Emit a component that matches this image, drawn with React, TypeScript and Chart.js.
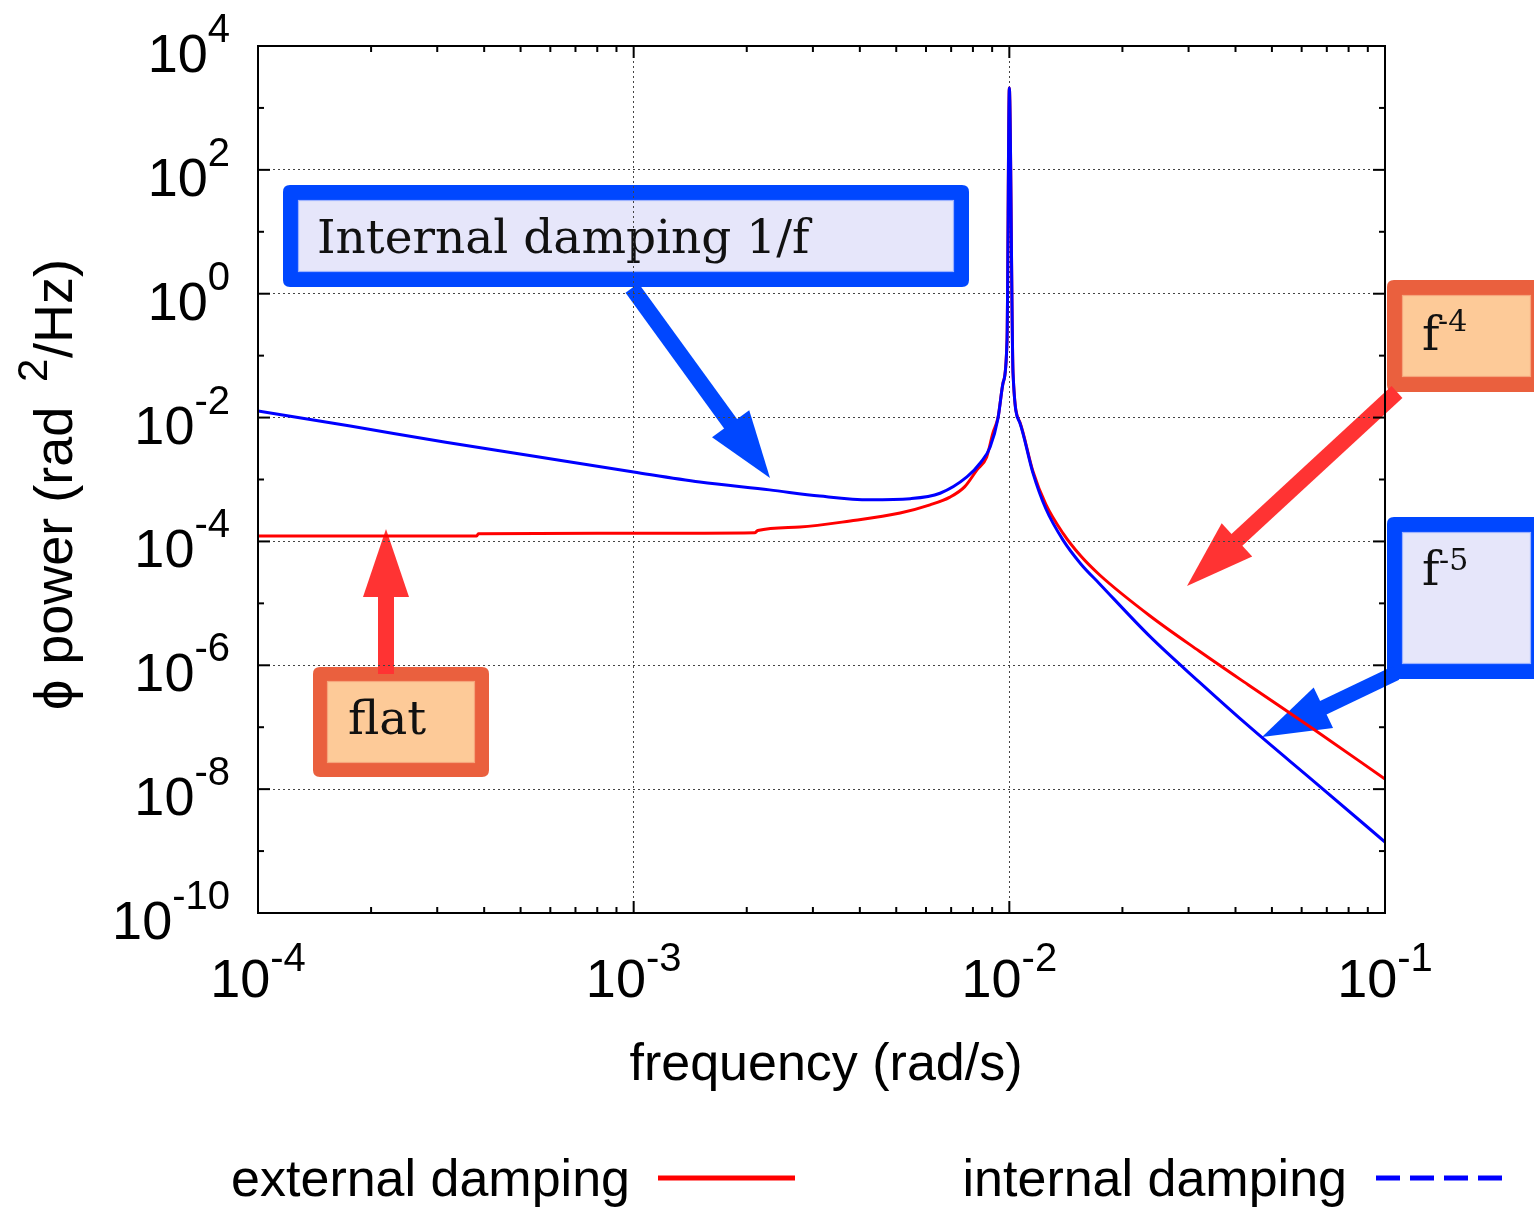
import React, { useEffect, useRef } from "react";
import { Chart, registerables } from "chart.js";

Chart.register(...registerables);

// ---------------- data ----------------
const seriesLabels = ["external damping", "internal damping"];

const externalFreq = [
  1e-4, 3.82e-4, 3.86e-4, 1e-3, 2.1e-3, 2.14e-3, 2.77e-3, 3.77e-3, 5.12e-3, 6.15e-3,
  6.95e-3, 7.6e-3, 8.2e-3, 8.7e-3, 9.04e-3, 9.33e-3, 9.62e-3, 9.86e-3, 1e-2, 1.023e-2,
  1.067e-2, 1.156e-2, 1.25e-2, 1.39e-2, 1.55e-2, 1.74e-2, 2.37e-2, 3.2e-2, 4.37e-2, 6.5e-2,
  1e-1,
];
const externalPower = [
  1.22e-4, 1.22e-4, 1.33e-4, 1.35e-4, 1.38e-4, 1.5e-4, 1.71e-4, 2.14e-4, 2.88e-4, 3.9e-4,
  5.2e-4, 7.6e-4, 1.43e-3, 2.3e-3, 5.6e-3, 1.0e-2, 3.6e-2, 0.18, 2.1e3, 5.2e-2,
  8.4e-3, 1.35e-3, 4.0e-4, 1.35e-4, 5.8e-5, 2.87e-5, 6.25e-6, 1.7e-6, 4.63e-7, 9.0e-8,
  1.46e-8,
];

const internalFreq = [
  1e-4, 1.76e-4, 3.16e-4, 5.6e-4, 1e-3, 1.5e-3, 2.3e-3, 3.13e-3, 4.25e-3, 5.45e-3,
  6.54e-3, 7.71e-3, 8.4e-3, 8.89e-3, 9.33e-3, 9.62e-3, 9.86e-3, 1e-2, 1.023e-2, 1.067e-2,
  1.156e-2, 1.25e-2, 1.39e-2, 1.55e-2, 1.74e-2, 2.37e-2, 3.2e-2, 4.37e-2, 6.5e-2, 1e-1,
];
const internalPower = [
  1.28e-2, 7.3e-3, 4.0e-3, 2.3e-3, 1.32e-3, 9.1e-4, 6.8e-4, 5.4e-4, 4.7e-4, 4.9e-4,
  6.0e-4, 1.1e-3, 1.9e-3, 3.35e-3, 9.8e-3, 3.6e-2, 0.18, 2.1e3, 5.2e-2, 8.2e-3,
  1.27e-3, 3.4e-4, 1.05e-4, 4.33e-5, 2.06e-5, 2.9e-6, 5.4e-7, 1.0e-7, 1.3e-8, 1.4e-9,
];

// tick definitions
const xDecadeExponents = [-4, -3, -2, -1];
const xMinorMultipliers = [2, 3, 4, 5, 6, 7, 8, 9];
const yDecadeExponents = [-10, -9, -8, -7, -6, -5, -4, -3, -2, -1, 0, 1, 2, 3, 4];
const yLabelStep = 2;

const xTitle = "frequency (rad/s)";
const yTitleParts = ["\u03d5 power (rad", "2", "/Hz)"];

// ---------------- styles / layout ----------------
const SANS = '"Liberation Sans", Arial, Helvetica, sans-serif';
const SERIF = '"DejaVu Serif", serif';
const RED = "#ff0000";
const BLUE = "#0000ff";
const ANN_BLUE = "#0047ff";
const ANN_RED = "#ff3333";
const ANN_ORANGE = "#ea603e";
const ANN_PEACH = "#fdca98";
const ANN_LAVENDER = "#e6e6fa";

type TextPiece = { t: string; x: number; y: number; size: number };
type Box = {
  x0: number; y0: number; x1: number; y1: number; t: number;
  border: string; fill: string; edge: string; texts: TextPiece[];
};
type Arrow = { from: [number, number]; to: [number, number]; color: string; shaft: number; headLen: number; headW: number };

const annotationBoxes: Box[] = [
  {
    x0: 283, y0: 185, x1: 969, y1: 287, t: 15, border: ANN_BLUE, fill: ANN_LAVENDER, edge: "#9db2ff",
    texts: [{ t: "Internal damping 1/f", x: 317, y: 253, size: 47 }],
  },
  {
    x0: 313, y0: 667, x1: 489, y1: 777, t: 14, border: ANN_ORANGE, fill: ANN_PEACH, edge: "#f6a57c",
    texts: [{ t: "flat", x: 348, y: 734, size: 47 }],
  },
  {
    x0: 1387, y0: 280, x1: 1546, y1: 392, t: 15, border: ANN_ORANGE, fill: ANN_PEACH, edge: "#f6a57c",
    texts: [
      { t: "f", x: 1422, y: 350, size: 47 },
      { t: "-4", x: 1438, y: 331, size: 30 },
    ],
  },
  {
    x0: 1387, y0: 517, x1: 1546, y1: 679, t: 15, border: ANN_BLUE, fill: ANN_LAVENDER, edge: "#9db2ff",
    texts: [
      { t: "f", x: 1422, y: 585, size: 47 },
      { t: "-5", x: 1439, y: 570, size: 30 },
    ],
  },
];

const annotationArrows: Arrow[] = [
  { from: [632, 288], to: [770, 478], color: ANN_BLUE, shaft: 16, headLen: 67, headW: 46 },
  { from: [386, 674], to: [386, 529], color: ANN_RED, shaft: 16, headLen: 68, headW: 46 },
  { from: [1397, 392], to: [1187, 586], color: ANN_RED, shaft: 16, headLen: 68, headW: 45 },
  { from: [1396, 673], to: [1262, 737], color: ANN_BLUE, shaft: 15, headLen: 68, headW: 45 },
];

// ---------------- helpers ----------------
const expOf = (v: number) => Math.round(Math.log10(v));
const isDecade = (v: number) => Math.abs(v / Math.pow(10, expOf(v)) - 1) < 1e-6;

function roundRectPath(ctx: CanvasRenderingContext2D, x0: number, y0: number, x1: number, y1: number, r: number) {
  ctx.beginPath();
  ctx.moveTo(x0 + r, y0);
  ctx.lineTo(x1 - r, y0);
  ctx.quadraticCurveTo(x1, y0, x1, y0 + r);
  ctx.lineTo(x1, y1 - r);
  ctx.quadraticCurveTo(x1, y1, x1 - r, y1);
  ctx.lineTo(x0 + r, y1);
  ctx.quadraticCurveTo(x0, y1, x0, y1 - r);
  ctx.lineTo(x0, y0 + r);
  ctx.quadraticCurveTo(x0, y0, x0 + r, y0);
  ctx.closePath();
}

function drawBox(ctx: CanvasRenderingContext2D, b: Box) {
  ctx.fillStyle = b.border;
  roundRectPath(ctx, b.x0, b.y0, b.x1, b.y1, 7);
  ctx.fill();
  ctx.fillStyle = b.fill;
  ctx.fillRect(b.x0 + b.t, b.y0 + b.t, b.x1 - b.x0 - 2 * b.t, b.y1 - b.y0 - 2 * b.t);
  ctx.strokeStyle = b.edge;
  ctx.lineWidth = 1.2;
  ctx.strokeRect(b.x0 + b.t + 0.5, b.y0 + b.t + 0.5, b.x1 - b.x0 - 2 * b.t - 1, b.y1 - b.y0 - 2 * b.t - 1);
  ctx.fillStyle = "#111";
  ctx.textAlign = "left";
  ctx.textBaseline = "alphabetic";
  for (const p of b.texts) {
    ctx.font = `${p.size}px ${SERIF}`;
    ctx.fillText(p.t, p.x, p.y);
  }
}

function drawArrow(ctx: CanvasRenderingContext2D, a: Arrow) {
  const [x0, y0] = a.from;
  const [x1, y1] = a.to;
  const L = Math.hypot(x1 - x0, y1 - y0);
  const ux = (x1 - x0) / L;
  const uy = (y1 - y0) / L;
  const px = -uy;
  const py = ux;
  const bx = x1 - ux * a.headLen;
  const by = y1 - uy * a.headLen;
  ctx.strokeStyle = a.color;
  ctx.lineWidth = a.shaft;
  ctx.lineCap = "butt";
  ctx.beginPath();
  ctx.moveTo(x0, y0);
  ctx.lineTo(bx + ux * 3, by + uy * 3);
  ctx.stroke();
  ctx.fillStyle = a.color;
  ctx.beginPath();
  ctx.moveTo(x1, y1);
  ctx.lineTo(bx + (px * a.headW) / 2, by + (py * a.headW) / 2);
  ctx.lineTo(bx - (px * a.headW) / 2, by - (py * a.headW) / 2);
  ctx.closePath();
  ctx.fill();
}

const annotationPlugin = {
  id: "annotationsBack",
  beforeDraw(chart: any) {
    const ctx: CanvasRenderingContext2D = chart.ctx;
    ctx.save();
    ctx.fillStyle = "#ffffff";
    ctx.fillRect(0, 0, chart.width, chart.height);
    for (const b of annotationBoxes) drawBox(ctx, b);
    for (const a of annotationArrows) drawArrow(ctx, a);
    ctx.restore();
  },
};

const framePlugin = {
  id: "frameTicksLabels",
  afterDraw(chart: any) {
    const ctx: CanvasRenderingContext2D = chart.ctx;
    const ca = chart.chartArea;
    const xs = chart.scales.x;
    const ys = chart.scales.y;
    ctx.save();
    ctx.strokeStyle = "#000";
    ctx.lineWidth = 2;
    ctx.lineCap = "butt";
    const seg = (a: number, b: number, c: number, d: number) => {
      ctx.beginPath();
      ctx.moveTo(a, b);
      ctx.lineTo(c, d);
      ctx.stroke();
    };
    // y ticks (inward, mirrored)
    for (const t of ys.ticks) {
      const py = ys.getPixelForValue(t.value);
      const e = expOf(t.value);
      const len = e % yLabelStep === 0 ? 12 : 6;
      seg(ca.left, py, ca.left + len, py);
      seg(ca.right, py, ca.right - len, py);
    }
    // x ticks (inward, mirrored)
    for (const t of xs.ticks) {
      const px = xs.getPixelForValue(t.value);
      const len = isDecade(t.value) ? 12 : 6;
      seg(px, ca.bottom, px, ca.bottom - len);
      seg(px, ca.top, px, ca.top + len);
    }
    ctx.strokeRect(ca.left, ca.top, ca.right - ca.left, ca.bottom - ca.top);

    ctx.fillStyle = "#000";
    ctx.textBaseline = "alphabetic";
    // y tick labels
    for (const t of ys.ticks) {
      const e = expOf(t.value);
      if (e % yLabelStep !== 0) continue;
      const py = ys.getPixelForValue(t.value);
      ctx.font = `40px ${SANS}`;
      const ex = String(e);
      const wE = ctx.measureText(ex).width;
      ctx.textAlign = "right";
      ctx.fillText(ex, 230, py - 4);
      ctx.font = `54px ${SANS}`;
      ctx.fillText("10", 230 - wE, py + 26);
    }
    // x tick labels
    for (const t of xs.ticks) {
      if (!isDecade(t.value)) continue;
      const px = xs.getPixelForValue(t.value);
      const ex = String(expOf(t.value));
      ctx.font = `54px ${SANS}`;
      const w10 = ctx.measureText("10").width;
      ctx.font = `40px ${SANS}`;
      const wE = ctx.measureText(ex).width;
      const start = px - (w10 + wE) / 2;
      ctx.textAlign = "left";
      ctx.font = `54px ${SANS}`;
      ctx.fillText("10", start, ca.bottom + 84);
      ctx.font = `40px ${SANS}`;
      ctx.fillText(ex, start + w10, ca.bottom + 58);
    }
    // x title
    ctx.font = `52px ${SANS}`;
    ctx.textAlign = "center";
    ctx.fillText(xTitle, 826, 1080);
    // y title (rotated)
    ctx.save();
    ctx.translate(72, 710);
    ctx.rotate(-Math.PI / 2);
    ctx.textAlign = "left";
    ctx.font = `54px ${SANS}`;
    ctx.fillText(yTitleParts[0], 0, 0);
    ctx.font = `42px ${SANS}`;
    ctx.fillText(yTitleParts[1], 328, -25);
    ctx.font = `54px ${SANS}`;
    ctx.fillText(yTitleParts[2], 352, 0);
    ctx.restore();

    // legend: text then sample line
    const legendItems = [
      { textRight: 630, x0: 658, x1: 795 },
      { textRight: 1347, x0: 1376, x1: 1505 },
    ];
    chart.data.datasets.forEach((ds: any, i: number) => {
      const li = legendItems[i];
      ctx.font = `52px ${SANS}`;
      ctx.textAlign = "right";
      ctx.fillStyle = "#000";
      ctx.fillText(ds.label, li.textRight, 1196);
      ctx.strokeStyle = ds.borderColor;
      ctx.lineWidth = 5;
      ctx.setLineDash(ds.legendDash || []);
      seg(li.x0, 1178, li.x1, 1178);
      ctx.setLineDash([]);
    });
    ctx.restore();
  },
};

const xTickValues: number[] = [];
xDecadeExponents.forEach((e, i) => {
  xTickValues.push(Math.pow(10, e));
  if (i < xDecadeExponents.length - 1) xMinorMultipliers.forEach((m) => xTickValues.push(m * Math.pow(10, e)));
});
const yTickValues = yDecadeExponents.map((e) => Math.pow(10, e));

export default function App() {
  const ref = useRef<HTMLCanvasElement>(null);
  useEffect(() => {
    if (!ref.current) return;
    const chart = new Chart(ref.current, {
      type: "line",
      data: {
        datasets: [
          {
            label: seriesLabels[0],
            data: externalFreq.map((f, i) => ({ x: f, y: externalPower[i] })),
            borderColor: RED,
            borderWidth: 3,
            pointRadius: 0,
            cubicInterpolationMode: "monotone",
            borderJoinStyle: "round",
            order: 1,
          } as any,
          {
            label: seriesLabels[1],
            data: internalFreq.map((f, i) => ({ x: f, y: internalPower[i] })),
            borderColor: BLUE,
            borderWidth: 3,
            pointRadius: 0,
            cubicInterpolationMode: "monotone",
            borderJoinStyle: "round",
            order: 0,
            legendDash: [24, 10],
          } as any,
        ],
      },
      options: {
        responsive: false,
        animation: false,
        events: [],
        layout: { padding: { left: 0, top: 46, right: 149, bottom: 0 } },
        plugins: { legend: { display: false }, tooltip: { enabled: false } },
        scales: {
          x: {
            type: "logarithmic",
            min: 1e-4,
            max: 1e-1,
            afterBuildTicks: (s: any) => {
              s.ticks = xTickValues.map((v) => ({ value: v }));
            },
            afterFit: (s: any) => {
              s.height = 296;
            },
            ticks: { display: false },
            grid: {
              drawTicks: false,
              lineWidth: 1,
              color: (c: any) => {
                const v = c.tick ? c.tick.value : 0;
                if (!v || !isDecade(v)) return "rgba(0,0,0,0)";
                const e = expOf(v);
                return e === -4 || e === -1 ? "rgba(0,0,0,0)" : "#444";
              },
            },
            border: { display: false, dash: [2, 3] },
          },
          y: {
            type: "logarithmic",
            min: 1e-10,
            max: 1e4,
            afterBuildTicks: (s: any) => {
              s.ticks = yTickValues.map((v) => ({ value: v }));
            },
            afterFit: (s: any) => {
              s.width = 258;
            },
            ticks: { display: false },
            grid: {
              drawTicks: false,
              lineWidth: 1,
              color: (c: any) => {
                const v = c.tick ? c.tick.value : 0;
                if (!v) return "rgba(0,0,0,0)";
                const e = expOf(v);
                if (e % yLabelStep !== 0 || e === 4 || e === -10) return "rgba(0,0,0,0)";
                return "#444";
              },
            },
            border: { display: false, dash: [2, 3] },
          },
        },
      } as any,
      plugins: [annotationPlugin, framePlugin],
    });
    return () => chart.destroy();
  }, []);

  return (
    <div style={{ position: "fixed", left: 0, top: 0, width: 1534, height: 1209, background: "#fff" }}>
      <canvas ref={ref} width={1534} height={1209} style={{ display: "block", width: 1534, height: 1209 }} />
    </div>
  );
}
